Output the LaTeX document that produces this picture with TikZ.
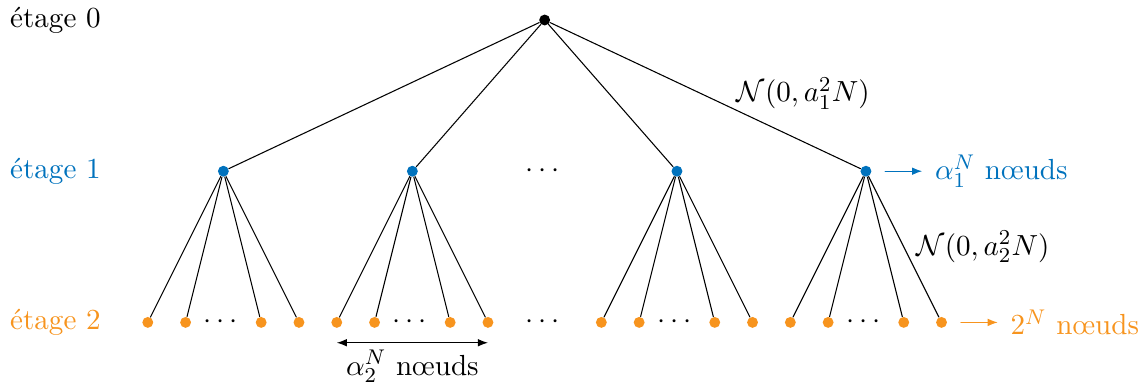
\documentclass[11pt,tikz,border=0pt]{standalone}
\usepackage{amsmath, amssymb}
\usepackage{tikz}
\usetikzlibrary{positioning, arrows.meta}

\begin{document}
\begin{tikzpicture}
	[scale=1,line cap=round,
	%Styles
	dot/.style={circle,inner sep=0pt,minimum size=4.1pt,fill},
	count arrow/.style={-{Latex[length=3.8pt]},shorten <=5pt,shorten >=1pt},
	width arrow/.style={{Latex[length=3.8pt]}-{Latex[length=3.8pt]}}
	]
	
	%Colors
	\definecolor{stageone}{RGB}{0,114,189}
	\definecolor{stagetwo}{RGB}{247,148,30}
	
	\useasboundingbox (-7.205,0.265) rectangle (7.915,-4.80);
	
	%Stage labels
	\node[right] (e0) at (-7.205,0) {étage 0};
	\node[right,stageone] (e1) at (-7.205,-2) {étage 1};
	\node[right,stagetwo] (e2) at (-7.205,-4) {étage 2};
	
	%Stage 0
	\node[dot] (root) at (0,0) {};
	
	%Stage 1
	\node[dot,stageone] (a1) at (-4.25,-2) {};
	\node[dot,stageone] (a2) at (-1.75,-2) {};
	\node (q0) at (0,-2) {$\cdots$};
	\node[dot,stageone] (a3) at (1.75,-2) {};
	\node[dot,stageone] (a4) at (4.25,-2) {};
	
	%Stage 2
	\node[dot,stagetwo] (b11) at (-5.25,-4) {};
	\node[dot,stagetwo] (b12) at (-4.75,-4) {};
	\node (q1) at (-4.25,-4) {$\cdots$};
	\node[dot,stagetwo] (b13) at (-3.75,-4) {};
	\node[dot,stagetwo] (b14) at (-3.25,-4) {};
	
	\node[dot,stagetwo] (b21) at (-2.75,-4) {};
	\node[dot,stagetwo] (b22) at (-2.25,-4) {};
	\node (q2) at (-1.75,-4) {$\cdots$};
	\node[dot,stagetwo] (b23) at (-1.25,-4) {};
	\node[dot,stagetwo] (b24) at (-0.75,-4) {};
	
	\node (qm) at (0,-4) {$\cdots$};
	
	\node[dot,stagetwo] (b31) at (0.75,-4) {};
	\node[dot,stagetwo] (b32) at (1.25,-4) {};
	\node (q3) at (1.75,-4) {$\cdots$};
	\node[dot,stagetwo] (b33) at (2.25,-4) {};
	\node[dot,stagetwo] (b34) at (2.75,-4) {};
	
	\node[dot,stagetwo] (b41) at (3.25,-4) {};
	\node[dot,stagetwo] (b42) at (3.75,-4) {};
	\node (q4) at (4.25,-4) {$\cdots$};
	\node[dot,stagetwo] (b43) at (4.75,-4) {};
	\node[dot,stagetwo] (b44) at (5.25,-4) {};
	
	%Edges
	\draw (root) -- (a1);
	\draw (root) -- (a2);
	\draw (root) -- (a3);
	\draw (root) -- node[pos=0.6,above right,inner sep=0pt] {$\mathcal{N}(0,a_1^2N)$} (a4);
	
	\foreach \i in {1,...,3}
		\foreach \j in {1,...,4}
			\draw (a\i) -- (b\i\j);
	\draw (a4) -- (b41);
	\draw (a4) -- (b42);
	\draw (a4) -- (b43);
	\draw (a4) -- node[midway,right,xshift=1pt] {$\mathcal{N}(0,a_2^2N)$} (b44);
	
	%Counts
	\node[right=0.7cm of a4,stageone] (c1) {$\alpha_1^N$ nœuds};
	\draw[count arrow,stageone] (a4) -- (c1);
	
	\node[right=0.7cm of b44,stagetwo] (c2) {$2^N$ nœuds};
	\draw[count arrow,stagetwo] (b44) -- (c2);
	
	\coordinate[below=0.19cm of b21] (w1);
	\coordinate[below=0.19cm of b24] (w2);
	\draw[width arrow] (w1) -- node[below,inner sep=2.5pt] (c3) {$\alpha_2^N$ nœuds} (w2);
\end{tikzpicture}
\end{document}
